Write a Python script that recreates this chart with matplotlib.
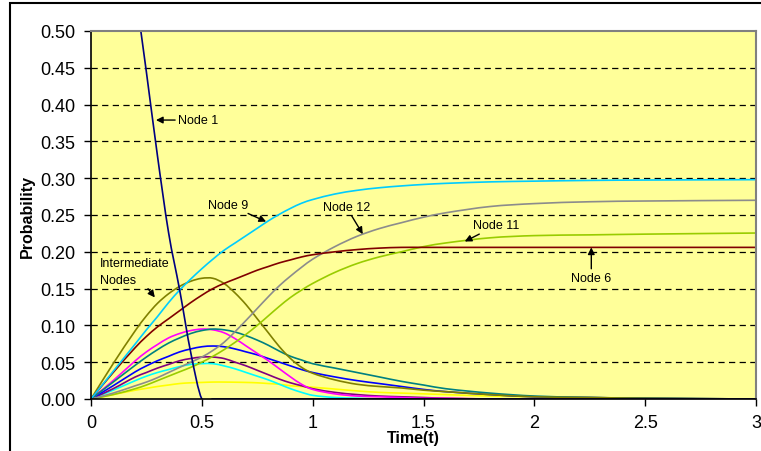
import matplotlib
matplotlib.use("Agg")
import matplotlib.pyplot as plt
from matplotlib.patches import Rectangle, PathPatch
from matplotlib.path import Path

plt.rcParams['font.family'] = ['Liberation Sans', 'DejaVu Sans']

time = [0, 0.1, 0.2, 0.25, 0.3, 0.35, 0.4, 0.45, 0.5, 0.55, 0.6, 0.65, 0.7, 0.75, 0.8,
        0.85, 0.9, 0.95, 1.0, 1.1, 1.2, 1.3, 1.4, 1.5, 1.6, 1.8, 2.0, 2.25, 2.5, 3.0]

node1 = [1.0, 0.78, 0.555, 0.444, 0.33, 0.226, 0.148, 0.063, 0.0] + [0.0] * 21
node9 = [0, 0.0375, 0.075, 0.094, 0.112, 0.131, 0.148, 0.163, 0.177, 0.19, 0.202, 0.212, 0.222, 0.232, 0.242,
         0.251, 0.259, 0.266, 0.271, 0.2785, 0.2835, 0.287, 0.2895, 0.2915, 0.293, 0.295, 0.296, 0.297, 0.2975, 0.298]
node6 = [0, 0.036, 0.07, 0.085, 0.098, 0.109, 0.12, 0.131, 0.141, 0.15, 0.157, 0.163, 0.169, 0.175, 0.18,
         0.185, 0.189, 0.193, 0.196, 0.2, 0.203, 0.205, 0.206, 0.206, 0.206, 0.206, 0.206, 0.206, 0.206, 0.206]
node12 = [0, 0.008, 0.018, 0.023, 0.029, 0.036, 0.043, 0.05, 0.057, 0.066, 0.077, 0.0915, 0.107, 0.123, 0.139,
          0.154, 0.167, 0.179, 0.19, 0.207, 0.221, 0.2315, 0.2395, 0.247, 0.253, 0.2615, 0.2655, 0.268, 0.269, 0.27]
node11 = [0, 0.006, 0.014, 0.019, 0.025, 0.031, 0.037, 0.043, 0.05, 0.058, 0.067, 0.077, 0.088, 0.1, 0.113,
          0.126, 0.138, 0.148, 0.157, 0.172, 0.184, 0.193, 0.2, 0.207, 0.212, 0.219, 0.222, 0.223, 0.224, 0.2255]

# intermediate nodes
olive = [0, 0.048, 0.093, 0.113, 0.13, 0.143, 0.153, 0.16, 0.164, 0.164, 0.157, 0.144, 0.128, 0.109, 0.09,
         0.071, 0.055, 0.043, 0.035, 0.026, 0.02, 0.017, 0.015, 0.012, 0.01, 0.006, 0.003, 0.002, 0.001, 0.0]
teal = [0, 0.023, 0.046, 0.057, 0.067, 0.076, 0.083, 0.089, 0.093, 0.095, 0.094, 0.091, 0.086, 0.08, 0.073,
        0.065, 0.058, 0.053, 0.048, 0.042, 0.036, 0.03, 0.024, 0.019, 0.014, 0.008, 0.004, 0.002, 0.001, 0.0]
magenta = [0, 0.025, 0.052, 0.064, 0.074, 0.083, 0.089, 0.093, 0.095, 0.094, 0.09, 0.082, 0.072, 0.062, 0.052,
           0.041, 0.03, 0.02, 0.013, 0.007, 0.004, 0.003, 0.002, 0.001, 0.001, 0, 0, 0, 0, 0]
blue = [0, 0.018, 0.037, 0.045, 0.052, 0.058, 0.064, 0.068, 0.071, 0.072, 0.071, 0.068, 0.064, 0.06, 0.055,
        0.05, 0.045, 0.04, 0.036, 0.03, 0.025, 0.021, 0.017, 0.013, 0.01, 0.006, 0.003, 0.002, 0.001, 0.0]
purple = [0, 0.014, 0.03, 0.036, 0.042, 0.047, 0.052, 0.055, 0.057, 0.057, 0.055, 0.05, 0.045, 0.039, 0.033,
          0.027, 0.022, 0.018, 0.014, 0.009, 0.006, 0.004, 0.003, 0.002, 0.001, 0, 0, 0, 0, 0]
aqua = [0, 0.012, 0.025, 0.031, 0.036, 0.04, 0.044, 0.047, 0.048, 0.048, 0.045, 0.041, 0.036, 0.031, 0.026,
        0.02, 0.014, 0.009, 0.005, 0.002, 0.001, 0, 0, 0, 0, 0, 0, 0, 0, 0]
yellow = [0, 0.006, 0.012, 0.0145, 0.017, 0.019, 0.021, 0.022, 0.0225, 0.023, 0.023, 0.0228, 0.0225, 0.022, 0.021,
          0.02, 0.018, 0.017, 0.016, 0.0135, 0.011, 0.009, 0.008, 0.007, 0.006, 0.004, 0.003, 0.002, 0.001, 0.0]

series = [
    (yellow, "#FFFF00"), (aqua, "#00FFFF"), (purple, "#800080"), (blue, "#0000FF"),
    (magenta, "#FF00FF"), (teal, "#008080"), (olive, "#808000"),
    (node11, "#99CC00"), (node12, "#8C8C8C"), (node6, "#800000"), (node9, "#00CCFF"),
    (node1, "#000080"),
]


def smooth_path(xs, ys):
    # Excel-style smoothed line: cubic Bezier segments through every data point
    verts = [(xs[0], ys[0])]
    codes = [Path.MOVETO]
    n = len(xs)
    for i in range(n - 1):
        x0, y0 = xs[max(i - 1, 0)], ys[max(i - 1, 0)]
        x1, y1 = xs[i], ys[i]
        x2, y2 = xs[i + 1], ys[i + 1]
        x3, y3 = xs[min(i + 2, n - 1)], ys[min(i + 2, n - 1)]
        h = x2 - x1
        s1 = (y2 - y0) / (x2 - x0)
        s2 = (y3 - y1) / (x3 - x1)
        verts += [(x1 + h / 3, y1 + s1 * h / 3), (x2 - h / 3, y2 - s2 * h / 3), (x2, y2)]
        codes += [Path.CURVE4] * 3
    return Path(verts, codes)


fig = plt.figure(figsize=(7.61, 4.52), dpi=100)
ax = fig.add_axes([91 / 761, 52 / 452, 665 / 761, 368 / 452])
ax.set_facecolor("#FFFF99")

for values, color in series:
    ax.add_patch(PathPatch(smooth_path(time, values), fill=False, edgecolor=color,
                           lw=1.2, joinstyle="round", zorder=2))

ax.set_xlim(0, 3)
ax.set_ylim(0, 0.5)
ax.set_xticks([0, 0.5, 1, 1.5, 2, 2.5, 3])
ax.set_xticklabels(["0", "0.5", "1", "1.5", "2", "2.5", "3"])
ax.set_yticks([i * 0.05 for i in range(11)])
ax.set_yticklabels([f"{i * 0.05:.2f}" for i in range(11)])
ax.tick_params(axis="both", labelsize=13, length=5, width=1, direction="out")
ax.tick_params(axis="x", pad=6)
ax.tick_params(axis="y", pad=6)

for y in [i * 0.05 for i in range(1, 10)]:
    ax.axhline(y, color="black", lw=0.9, ls=(0, (5, 3.5)), zorder=0.5)

ax.spines["top"].set_color("#808080")
ax.spines["right"].set_color("#808080")
ax.spines["top"].set_linewidth(1.5)
ax.spines["right"].set_linewidth(1.5)
ax.spines["left"].set_linewidth(1.2)
ax.spines["bottom"].set_linewidth(1.2)

ax.set_xlabel("Time(t)", fontsize=11.5, fontweight="bold")
ax.xaxis.set_label_coords(0.484, -0.085)
ax.set_ylabel("Probability", fontsize=11.5, fontweight="bold")
ax.yaxis.set_label_coords(-0.084, 0.5)

arrow = dict(arrowstyle="-|>", color="black", lw=1, mutation_scale=10, shrinkA=0, shrinkB=0)
ax.annotate("Node 1", xy=(0.293, 0.379), xytext=(0.392, 0.379), fontsize=9,
            va="center", ha="left", arrowprops=arrow)
ax.annotate("Node 9", xy=(0.79, 0.241), xytext=(0.53, 0.264), fontsize=9,
            va="center", ha="left", arrowprops=arrow)
ax.annotate("Node 12", xy=(1.226, 0.224), xytext=(1.045, 0.261), fontsize=9,
            va="center", ha="left", arrowprops=arrow)
ax.annotate("Node 11", xy=(1.686, 0.214), xytext=(1.725, 0.236), fontsize=9,
            va="center", ha="left", arrowprops=arrow)
ax.annotate("Node 6", xy=(2.257, 0.206), xytext=(2.257, 0.165), fontsize=9,
            va="center", ha="center", arrowprops=arrow)
ax.annotate("Intermediate\nNodes", xy=(0.288, 0.138), xytext=(0.04, 0.173), fontsize=9,
            va="center", ha="left", linespacing=1.5, arrowprops=arrow)

# outer chart frame
fig.patches.append(Rectangle((10 / 761, -0.1), 1.0, (452 - 4) / 452 + 0.1,
                             transform=fig.transFigure, fill=False,
                             edgecolor="black", lw=1.5))

fig.savefig("out.png", dpi=100)
